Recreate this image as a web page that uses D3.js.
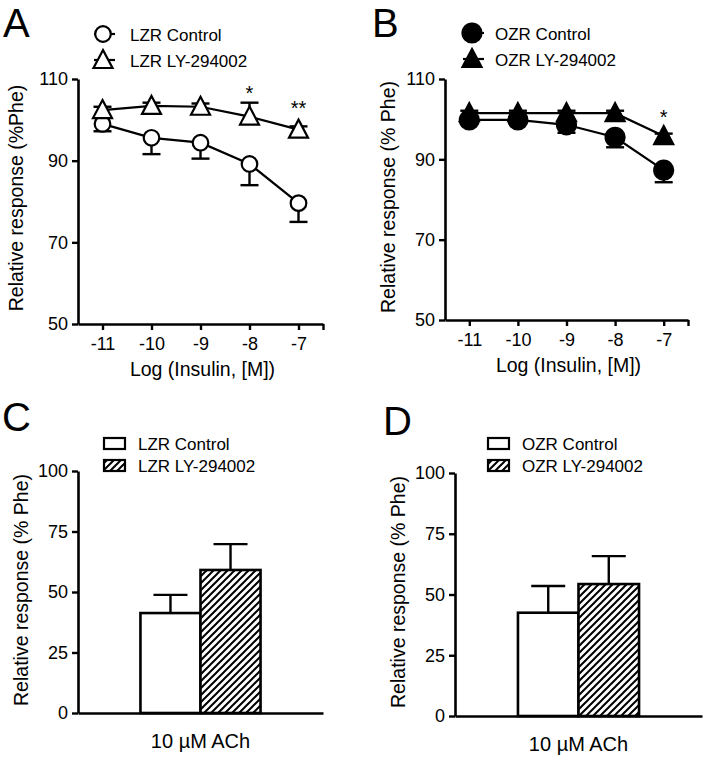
<!DOCTYPE html>
<html>
<head>
<meta charset="utf-8">
<script src="https://cdn.jsdelivr.net/npm/d3@7"></script>
<style>
  body { margin: 0; background: #fff; }
  svg text { font-family: "Liberation Sans", Arial, sans-serif; fill: #000; }
</style>
</head>
<body>
<script>
// dose-response, log insulin [M]
const doses = [-11, -10, -9, -8, -7];
const doseTicks = [50, 70, 90, 110];

const lzrControl = [99.0, 95.6, 94.4, 89.2, 79.6];
const lzrControlErr = [1.8, 4.0, 3.9, 5.2, 4.6];
const lzrLY = [102.4, 103.4, 103.2, 100.8, 97.6];
const lzrLYErr = [0.8, 0.8, 0.8, 3.4, 0.8];

const ozrControl = [99.8, 99.8, 98.6, 95.5, 87.3];
const ozrControlErr = [0.8, 0.8, 2.0, 2.5, 3.0];
const ozrLY = [101.5, 101.5, 101.5, 101.5, 95.8];
const ozrLYErr = [0.6, 0.6, 0.6, 0.6, 0.6];

const sigA = [{ dose: -8, y: 107.8, t: "*" }, { dose: -7, y: 104.1, t: "**" }];
const sigB = [{ dose: -7, y: 101.8, t: "*" }];

// ACh bars
const achCategory = ["10 \u00b5M ACh"];
const barTicks = [0, 25, 50, 75, 100];
const lzrBars = [41.3, 59.1];
const lzrBarsErr = [7.5, 10.7];
const ozrBars = [42.5, 54.3];
const ozrBarsErr = [11.0, 11.5];

const svg = d3.select("body").append("svg").attr("width", 709).attr("height", 760);

const pat = svg.append("defs").append("pattern")
    .attr("id", "hatch")
    .attr("patternUnits", "userSpaceOnUse")
    .attr("width", 7).attr("height", 7);
pat.append("rect").attr("width", 7).attr("height", 7).attr("fill", "#fff");
pat.append("path")
    .attr("d", "M-1,1 l2,-2 M0,7 l7,-7 M6,8 l2,-2")
    .attr("stroke", "#000").attr("stroke-width", 2);

function marker(g, type, filled, cx, cy) {
    if (type === "circle") {
        g.append("circle").attr("cx", cx).attr("cy", cy)
            .attr("r", filled ? 9.5 : 7.8)
            .attr("fill", filled ? "#000" : "#fff")
            .attr("stroke", "#000").attr("stroke-width", 2.2);
    } else {
        g.append("path")
            .attr("transform", `translate(${cx},${cy})`)
            .attr("d", "M0,-10 L9.5,8 L-9.5,8 Z")
            .attr("fill", filled ? "#000" : "#fff")
            .attr("stroke", "#000").attr("stroke-width", 2.2)
            .attr("stroke-linejoin", "miter");
    }
}

function styleAxis(ax, size) {
    ax.select(".domain").attr("stroke-width", 2.6);
    ax.selectAll(".tick line").attr("stroke-width", 2.4);
    ax.selectAll(".tick text").style("font-size", size + "px");
}

function panelLetter(letter, x, y) {
    svg.append("text").attr("x", x).attr("y", y)
        .style("font-size", "40px").text(letter);
}

function yTitle(text, x, cy) {
    svg.append("text")
        .attr("transform", `translate(${x},${cy}) rotate(-90)`)
        .attr("text-anchor", "middle")
        .style("font-size", "19.5px")
        .text(text);
}

function drawDose(cfg) {
    const g = svg.append("g");
    const x = d3.scaleLinear().domain([-11.5, -6.5]).range([cfg.left, cfg.right]);
    const y = d3.scaleLinear().domain([50, 110]).range([cfg.bottom, cfg.top]);

    const xAx = g.append("g").attr("transform", `translate(0,${cfg.bottom})`)
        .call(d3.axisBottom(x).tickValues(doses.concat([-6.5]))
            .tickFormat(d => d === -6.5 ? "" : String(d))
            .tickSize(6).tickSizeOuter(0).tickPadding(7));
    styleAxis(xAx, 18);

    const yAx = g.append("g").attr("transform", `translate(${cfg.left},0)`)
        .call(d3.axisLeft(y).tickValues(doseTicks).tickSize(6).tickSizeOuter(0).tickPadding(4));
    styleAxis(yAx, 18);

    g.append("text")
        .attr("x", (cfg.left + cfg.right) / 2 + 2).attr("y", cfg.bottom + 52)
        .attr("text-anchor", "middle").style("font-size", "19.5px")
        .text("Log (Insulin, [M])");

    const line = d3.line().x((d, i) => x(doses[i])).y(d => y(d));

    cfg.series.forEach(s => {
        // error bars
        s.values.forEach((v, i) => {
            const e = v + s.dir * s.errs[i];
            g.append("line").attr("x1", x(doses[i])).attr("x2", x(doses[i]))
                .attr("y1", y(v)).attr("y2", y(e))
                .attr("stroke", "#000").attr("stroke-width", 2.4);
            g.append("line").attr("x1", x(doses[i]) - 9).attr("x2", x(doses[i]) + 9)
                .attr("y1", y(e)).attr("y2", y(e))
                .attr("stroke", "#000").attr("stroke-width", 2.4);
        });
    });
    cfg.series.forEach(s => {
        g.append("path").datum(s.values).attr("d", line)
            .attr("fill", "none").attr("stroke", "#000").attr("stroke-width", 2.2);
    });
    cfg.series.forEach(s => {
        s.values.forEach((v, i) => marker(g, s.shape, s.filled, x(doses[i]), y(v)));
    });

    cfg.sig.forEach(d => {
        g.append("text").attr("x", x(d.dose)).attr("y", y(d.y)).attr("dy", "0.58em")
            .attr("text-anchor", "middle").style("font-size", "20px").text(d.t);
    });

    // legend
    cfg.series.forEach((s, i) => {
        const ly = cfg.legendY + i * 26;
        g.append("line").attr("x1", cfg.legendX - 9).attr("x2", cfg.legendX + 12)
            .attr("y1", ly).attr("y2", ly).attr("stroke", "#000").attr("stroke-width", 2.2);
        marker(g, s.shape, s.filled, cfg.legendX, ly);
        g.append("text").attr("x", cfg.legendTextX).attr("y", ly + 7)
            .style("font-size", "17px").text(s.name);
    });
}

function drawBars(cfg) {
    const g = svg.append("g");
    const x = d3.scaleBand().domain(achCategory).range([cfg.left, cfg.right])
        .paddingInner(0).paddingOuter(0.52);
    const xs = d3.scaleBand().domain(cfg.names).range([0, x.bandwidth()]);
    const y = d3.scaleLinear().domain([0, 100]).range([cfg.bottom, cfg.top]);

    const xAx = g.append("g").attr("transform", `translate(0,${cfg.bottom})`)
        .call(d3.axisBottom(x).tickSize(0).tickSizeOuter(0).tickPadding(21));
    styleAxis(xAx, 20);

    const yAx = g.append("g").attr("transform", `translate(${cfg.left},0)`)
        .call(d3.axisLeft(y).tickValues(barTicks).tickSize(6).tickSizeOuter(0).tickPadding(4));
    styleAxis(yAx, 18);

    cfg.values.forEach((v, i) => {
        const bx = x(achCategory[0]) + xs(cfg.names[i]);
        const cx = bx + xs.bandwidth() / 2;
        const top = y(v + cfg.errs[i]);
        g.append("line").attr("x1", cx).attr("x2", cx).attr("y1", y(v)).attr("y2", top)
            .attr("stroke", "#000").attr("stroke-width", 2.4);
        g.append("line").attr("x1", cx - 17).attr("x2", cx + 17).attr("y1", top).attr("y2", top)
            .attr("stroke", "#000").attr("stroke-width", 2.4);
        g.append("rect").attr("x", bx).attr("y", y(v))
            .attr("width", xs.bandwidth()).attr("height", y(0) - y(v))
            .attr("fill", i === 0 ? "#fff" : "url(#hatch)")
            .attr("stroke", "#000").attr("stroke-width", 2.6);
    });
    yAx.raise();

    cfg.names.forEach((n, i) => {
        const ly = cfg.legendY + i * 22;
        g.append("rect").attr("x", cfg.legendX).attr("y", ly)
            .attr("width", 21).attr("height", 11)
            .attr("fill", i === 0 ? "#fff" : "url(#hatch)")
            .attr("stroke", "#000").attr("stroke-width", 2.2);
        g.append("text").attr("x", cfg.legendX + 34).attr("y", ly + 12)
            .style("font-size", "17px").text(n);
    });
}

// A
panelLetter("A", 3, 37);
yTitle("Relative response (%Phe)", 23, 198);
drawDose({
    left: 78, right: 323, top: 79, bottom: 324,
    legendX: 103, legendTextX: 130, legendY: 34,
    sig: sigA,
    series: [
        { name: "LZR Control", values: lzrControl, errs: lzrControlErr, dir: -1, shape: "circle", filled: false },
        { name: "LZR LY-294002", values: lzrLY, errs: lzrLYErr, dir: 1, shape: "triangle", filled: false }
    ]
});

// B
panelLetter("B", 372, 37);
yTitle("Relative response (% Phe)", 395, 197);
drawDose({
    left: 445, right: 688, top: 79, bottom: 320,
    legendX: 472, legendTextX: 495, legendY: 33,
    sig: sigB,
    series: [
        { name: "OZR Control", values: ozrControl, errs: ozrControlErr, dir: -1, shape: "circle", filled: true },
        { name: "OZR  LY-294002", values: ozrLY, errs: ozrLYErr, dir: 1, shape: "triangle", filled: true }
    ]
});

// C
panelLetter("C", 2, 431);
yTitle("Relative response (% Phe)", 28, 590);
drawBars({
    left: 78, right: 323, top: 471, bottom: 713,
    legendX: 104, legendY: 438,
    names: ["LZR Control", "LZR LY-294002"],
    values: lzrBars, errs: lzrBarsErr
});

// D
panelLetter("D", 383, 435);
yTitle("Relative response (% Phe)", 405, 592);
drawBars({
    left: 455, right: 702, top: 473, bottom: 716,
    legendX: 488, legendY: 438,
    names: ["OZR Control", "OZR LY-294002"],
    values: ozrBars, errs: ozrBarsErr
});
</script>
</body>
</html>
